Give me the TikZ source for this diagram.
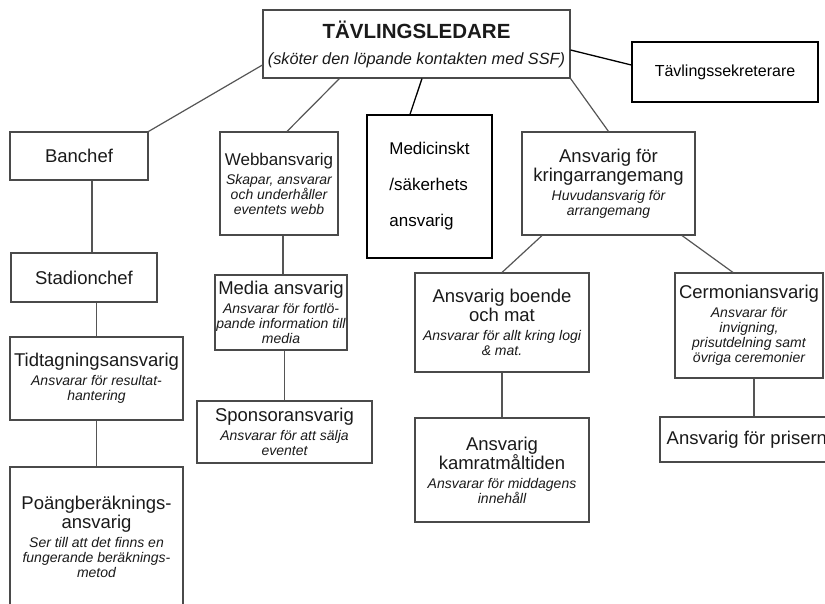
\documentclass[tikz,border=0pt]{standalone}
\usepackage{fontspec}
\setmainfont{Liberation Sans}
\usepackage{tikz}

\definecolor{boxline}{HTML}{4A4A4A}
\definecolor{linkline}{HTML}{555555}
\definecolor{inktext}{HTML}{1A1A1A}

\hyphenpenalty=10000
\exhyphenpenalty=10000
\newcommand\titlefont{\fontsize{18.5}{19}\selectfont}
\newcommand\descfont{\fontsize{14}{15}\selectfont\itshape}
\newcommand\desc[1]{\par\vspace{4pt}{\descfont #1\par}}

\tikzset{
  unit/.style={draw=boxline,line width=1.1pt,fill=white,text=inktext,
    inner sep=1pt,align=flush center,font=\titlefont},
  sidebox/.style={draw=black,line width=1.4pt,fill=white,text=black,
    inner sep=0pt,align=left},
  link/.style={draw=linkline,line width=1.2pt},
  sidelink/.style={draw=black,line width=1.3pt}
}

\begin{document}
\begin{tikzpicture}[x=1pt,y=-1pt]
\useasboundingbox (0,0) rectangle (825,604);
\clip (0,0) rectangle (825,604);

      % top level
      \node[unit,text width=305,minimum height=68] (led) at (416.5,44)
        {{\fontsize{20.5}{22}\selectfont\bfseries TÄVLINGSLEDARE}\par\vspace{8pt}
         {\fontsize{16.3}{18}\selectfont\itshape\mbox{(sköter den löpande kontakten med SSF)}\par}};
      \node[sidebox,minimum width=186,minimum height=60,font=\fontsize{16}{18}\selectfont]
        (sekr) at (725,72) {\raisebox{-5pt}{Tävlingssekreterare}};

      % left column
      \node[unit,text width=136,minimum height=48] (banchef) at (79,156) {Banchef};
      \node[unit,text width=144,minimum height=49] (stadion) at (84,277.5) {Stadionchef};
      \node[unit,text width=171,minimum height=83] (tidt) at (96.5,378.5)
        {Tidtagningsansvarig\desc{Ansvarar för resultat-\\hantering}};
      \node[unit,text width=171,minimum height=139] (poang) at (96.5,536.5)
        {Poängberäknings-\\ansvarig\desc{Ser till att det finns en\\fungerande beräknings-\\metod}};

      % web and media column
      \node[unit,text width=116,minimum height=103] (webb) at (279,183.5)
        {{\fontsize{17}{19}\selectfont Webbansvarig\par}\desc{Skapar, ansvarar\\och underhåller\\eventets webb}};
      \node[unit,text width=130,minimum height=75] (media) at (281,312.5)
        {Media ansvarig\desc{Ansvarar för fortlö-\\pande information till\\media}};
      \node[unit,text width=173,minimum height=62] (sponsor) at (284.5,432)
        {Sponsoransvarig\desc{Ansvarar för att sälja\\eventet}};

      % medical
      \node[sidebox,minimum width=125,minimum height=143,
        font=\fontsize{17}{36}\selectfont] (medic) at (429.5,186.5)
        {\raisebox{-4pt}{Medicinskt}\\\raisebox{-4pt}{/säkerhets}\\\raisebox{-4pt}{ansvarig}};

      % arrangements
      \node[unit,text width=171,minimum height=103] (kring) at (608.5,183.5)
        {Ansvarig för\\kringarrangemang\desc{Huvudansvarig för\\arrangemang}};
      \node[unit,text width=172,minimum height=99] (boende) at (502,322.5)
        {Ansvarig boende\\och mat\desc{Ansvarar för allt kring logi\\\& mat.}};
      \node[unit,text width=172,minimum height=104] (kamrat) at (502,470)
        {Ansvarig\\kamratmåltiden\desc{Ansvarar för middagens\\innehåll}};
      \node[unit,text width=146,minimum height=105] (cermoni) at (749,325.5)
        {Cermoniansvarig\desc{Ansvarar för\\invigning,\\prisutdelning samt\\övriga ceremonier}};
      \node[unit,text width=182,minimum height=45] (priser) at (752,439.5)
        {Ansvarig för priserna};

\draw[link] ([yshift=-21]led.west) -- (banchef.north east);
\draw[link] ([xshift=77]led.south west) -- ([xshift=8]webb.north);
\draw[sidelink] ([xshift=5.5]led.south) -- ([xshift=-19.5]medic.north);
\draw[link] (led.south east) -- (kring.north);
\draw[sidelink] ([yshift=-6]led.east) -- ([yshift=7]sekr.west);

\draw[link] ([xshift=8]stadion.north) -- ([xshift=8]stadion.north |- banchef.south);
\draw[link] (tidt.north) -- (tidt.north |- stadion.south);
\draw[link] (poang.north) -- (poang.north |- tidt.south);
\draw[link] ([xshift=2]media.north) -- ([xshift=2]media.north |- webb.south);
\draw[link] (sponsor.north) -- (sponsor.north |- media.south);
\draw[link] ([xshift=-66.5]kring.south) -- (boende.north);
\draw[link] ([xshift=73.5]kring.south) -- ([xshift=-16]cermoni.north);
\draw[link] (kamrat.north) -- (kamrat.north |- boende.south);
\draw[link] ([xshift=2]priser.north) -- ([xshift=2]priser.north |- cermoni.south);
    \end{tikzpicture}
\end{document}
